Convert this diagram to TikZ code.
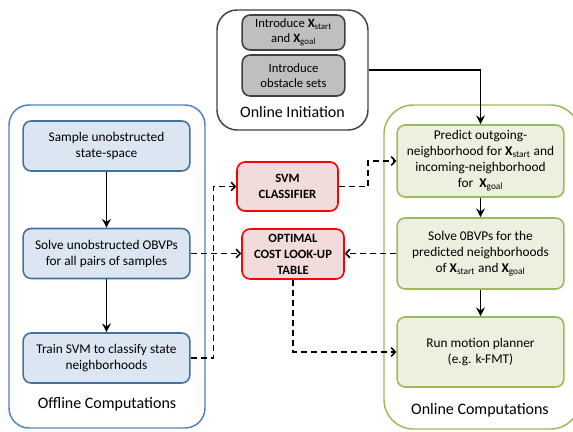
\documentclass[tikz,border=0pt]{standalone}
\usepackage{fontspec}
\setmainfont{Carlito}
\usetikzlibrary{arrows.meta}

\definecolor{offline}{HTML}{4F81BD}
\definecolor{offfill}{HTML}{DCE6F2}
\definecolor{offdraw}{HTML}{41719C}
\definecolor{tabfill}{HTML}{F2DCDB}
\definecolor{online}{HTML}{9BBB59}
\definecolor{onfill}{HTML}{EBF1DE}
\definecolor{initfill}{HTML}{BFBFBF}
\definecolor{initdraw}{HTML}{404040}

\newcommand{\xs}{\textbf{X}\textsubscript{start}}
\newcommand{\xg}{\textbf{X}\textsubscript{goal}}

\begin{document}
\begin{tikzpicture}[x=0.75pt,y=-0.75pt,
    cont/.style={draw,rounded corners=15pt,line width=1.1pt,inner sep=0pt},
    box/.style={draw,rounded corners=6pt,line width=1.2pt,inner sep=1pt,
        align=center,font=\fontsize{10}{12}\selectfont},
    offbox/.style={box,fill=offfill,draw=offdraw,minimum width=125pt,minimum height=37.5pt},
    onbox/.style={box,fill=onfill,draw=online,minimum width=125pt},
    tabbox/.style={box,fill=tabfill,draw=red,font=\fontsize{9.5}{12}\selectfont\bfseries},
    initbox/.style={box,fill=initfill,draw=initdraw,minimum width=77pt,
        font=\fontsize{9.5}{11.25}\selectfont},
    lbl/.style={font=\fontsize{12}{14}\selectfont},
    solarr/.style={-{Stealth[length=6.5pt,width=6.5pt]},line width=1.2pt},
    dasharr/.style={-{Straight Barb[length=3pt,width=6.5pt]},line width=1.2pt,
        dash pattern=on 4.5pt off 3pt}]

\useasboundingbox (0,0) rectangle (573,431);
\clip (0,0) rectangle (573,431);

% containers
\node[cont,draw=offline,minimum width=147pt,minimum height=242.25pt] (offcont) at (107,266.5) {};
\node[cont,draw=online,rounded corners=22pt,minimum width=147pt,minimum height=243pt] (oncont) at (482,267) {};
\node[cont,draw=initdraw,minimum width=113.25pt,minimum height=90pt] (initcont) at (292.5,70) {};

\node[lbl] (offlbl) at (107,404) {Offline Computations};
\node[lbl] (onlbl) at (480,410) {Online Computations};
\node[lbl] (initlbl) at (292.5,112) {Online Initiation};

% online initiation
\node[initbox,minimum height=26.25pt] (intro) at (293.5,32.5) {Introduce \xs\\and \xg};
\node[initbox,minimum height=30.75pt] (obst) at (293.5,75.5) {Introduce\\obstacle sets};

% offline computations
\node[offbox] (sample) at (106.5,146) {Sample unobstructed\\state-space};
\node[offbox] (solve) at (106.5,253.5) {Solve unobstructed OBVPs\\for all pairs of samples};
\node[offbox] (train) at (106.5,358) {Train SVM to classify state\\neighborhoods};

% look-up
\node[tabbox,minimum width=75.75pt,minimum height=36.75pt] (svm) at (287.5,186.5) {SVM\\CLASSIFIER};
\node[tabbox,minimum width=76.5pt,minimum height=37.5pt] (table) at (293,254) {OPTIMAL\\COST LOOK-UP\\TABLE};

% online computations
\node[onbox,minimum height=54pt] (predict) at (480.5,161)
    {Predict outgoing-\\neighborhood for \xs{} and\\incoming-neighborhood\\for\ \ \xg};
\node[onbox,minimum height=53.25pt] (solveon) at (480.5,253.5)
    {Solve 0BVPs for the\\predicted neighborhoods\\of \xs{} and \xg};
\node[onbox,minimum height=52.5pt] (plan) at (480.5,352) {Run motion planner\\(e.g. k-FMT)};

\draw[solarr] (sample) -- (solve);
\draw[solarr] (solve) -- (train);
\draw[solarr] (predict) -- (solveon);
\draw[solarr] (solveon) -- (plan);
\draw[solarr] (initcont.east) -| (predict.north);

\draw[dasharr] (train.east) -- ++(23,0) |- (svm.west);
\draw[dasharr] (solve.east) -- (solve.east -| table.west);
\draw[dasharr] (svm.east) -- ++(29,0) |- (predict.west);
\draw[dasharr] (solveon.west) -- (solveon.west -| table.east);
\draw[dasharr] (table.south) |- (plan.west);

\end{tikzpicture}
\end{document}
